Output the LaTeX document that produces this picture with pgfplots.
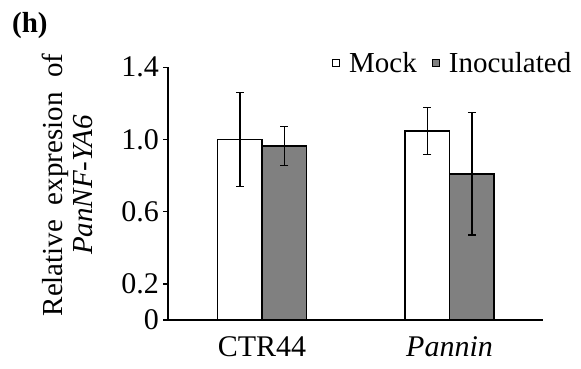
\documentclass[border=0pt]{standalone}
\usepackage{pgfplots}
\pgfplotsset{compat=1.18}
\usepackage{fontspec}
\setmainfont{Liberation Serif}
\definecolor{inocgray}{RGB}{128,128,128}
\begin{document}
\begin{tikzpicture}
\path[use as bounding box] (0pt,0pt) rectangle (581pt,369pt);
\node[anchor=north west, inner sep=0pt, font=\fontsize{29}{32}\selectfont\bfseries] at (12pt,357pt) {(h)};
\begin{axis}[
  at={(168.3pt,49pt)}, anchor=south west,
  scale only axis, width=375pt, height=252.7pt,
  xmin=-0.5, xmax=1.5, ymin=0, ymax=1.4,
  ybar=0pt, bar width=44.5pt,
  axis x line*=bottom, axis y line*=left,
  axis line style={line width=1.6pt, -},
  ytick={0,0.2,0.6,1.0,1.4}, yticklabels={0,0.2,0.6,1.0,1.4},
  xtick={0,1}, xticklabels={CTR44,\textit{Pannin}},
  x tick style={draw=none},
  y tick style={line width=1.3pt, black},
  tick align=outside, major tick length=5pt,
  tick label style={font=\fontsize{30}{34}\selectfont},
  yticklabel style={xshift=-1pt},
  xticklabel style={yshift=-8pt},
  ylabel={Relative\ \ expresion\ \ of\\\textit{PanNF-YA6}},
  ylabel style={font=\fontsize{29}{30}\selectfont, align=center, at={(axis description cs:-0.27,0.534)}, anchor=center},
  legend columns=2,
  legend style={draw=none, fill=none, inner sep=0pt, at={(0.4365,1.018)}, anchor=west, font=\fontsize{29}{34}\selectfont,
    /tikz/every odd column/.append style={column sep=7pt},
    /tikz/every even column/.append style={column sep=13pt}},
  legend cell align=left,
]
\addplot[draw=black, fill=white, line width=1.6pt,
  legend image code/.code={\draw[draw=black, fill=white, line width=1pt] (0pt,-3.5pt) rectangle (7pt,3.5pt);},
  error bars/.cd, y dir=both, y explicit,
  error bar style={line width=1.6pt, black},
  error mark options={rotate=90, mark size=4pt, line width=1.6pt, black}]
  coordinates {(0,1.0) +- (0,0.26) (1,1.047) +- (0,0.13)};
\addlegendentry{Mock}
\addplot[draw=black, fill=inocgray, line width=1.6pt,
  legend image code/.code={\draw[draw=black, fill=inocgray, line width=1pt] (0pt,-3.5pt) rectangle (7pt,3.5pt);},
  error bars/.cd, y dir=both, y explicit,
  error bar style={line width=1.6pt, black},
  error mark options={rotate=90, mark size=4pt, line width=1.6pt, black}]
  coordinates {(0,0.965) +- (0,0.108) (1,0.81) +- (0,0.34)};
\addlegendentry{Inoculated}
\end{axis}
\end{tikzpicture}
\end{document}
